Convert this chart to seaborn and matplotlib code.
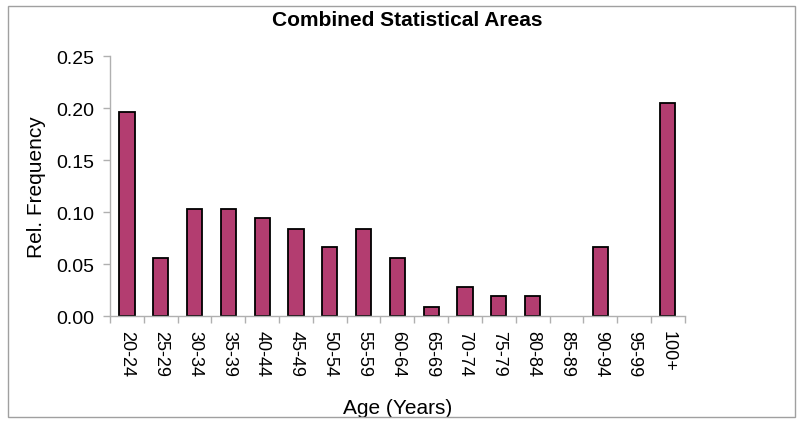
import matplotlib
matplotlib.use('Agg')
import matplotlib.pyplot as plt
import seaborn as sns
import numpy as np
import pandas as pd

age_groups = ['20-24', '25-29', '30-34', '35-39', '40-44', '45-49', '50-54', '55-59',
              '60-64', '65-69', '70-74', '75-79', '80-84', '85-89', '90-94', '95-99', '100+']
rel_freq = [0.196, 0.056, 0.103, 0.103, 0.094, 0.084, 0.066, 0.084,
            0.056, 0.009, 0.028, 0.019, 0.019, 0.0, 0.066, 0.0, 0.205]
y_ticks = [0.00, 0.05, 0.10, 0.15, 0.20, 0.25]

sns.set_style('white')
plt.rcParams['font.family'] = ['Liberation Sans', 'DejaVu Sans']
plt.rcParams['text.color'] = 'black'
plt.rcParams['axes.labelcolor'] = 'black'
plt.rcParams['xtick.color'] = 'black'
plt.rcParams['ytick.color'] = 'black'

df = pd.DataFrame({'age': age_groups, 'freq': rel_freq})

fig = plt.figure(figsize=(7.99, 4.27), dpi=100)
ax = fig.add_axes([0.1377, 0.2576, 0.857 - 0.1377, 0.8665 - 0.2576])

sns.barplot(data=df, x='age', y='freq', color='#B33D70', saturation=1,
            edgecolor='black', linewidth=1.3, width=0.45, ax=ax)
# empty classes: no visible bar outline
for patch in ax.patches:
    if patch.get_height() == 0:
        patch.set_linewidth(0)

ax.set_ylim(0, 0.25)
ax.set_xlim(-0.5, len(age_groups) - 0.5)
ax.set_yticks(y_ticks)
ax.set_yticklabels([f'{v:.2f}' for v in y_ticks], fontsize=14)
ax.set_xticks(range(len(age_groups)))
ax.set_xticklabels(age_groups, rotation=-90, fontsize=13)
ax.tick_params(axis='x', which='major', bottom=False, length=0, pad=10)
ax.set_xticks(np.arange(-0.5, len(age_groups), 1), minor=True)
ax.tick_params(axis='x', which='minor', bottom=True, length=5, width=1,
               color='#b0b0b0', direction='out')
ax.tick_params(axis='y', left=True, length=5, width=1, color='#b0b0b0',
               direction='out', pad=6)

for side in ['top', 'right']:
    ax.spines[side].set_visible(False)
for side in ['left', 'bottom']:
    ax.spines[side].set_color('#b0b0b0')
    ax.spines[side].set_linewidth(1)

ax.set_xlabel('Age (Years)', fontsize=15, labelpad=16)
ax.set_ylabel('Rel. Frequency', fontsize=15, labelpad=8)
fig.text(0.51, 0.953, 'Combined Statistical Areas', ha='center', va='center',
         fontsize=15, fontweight='bold')

# outer frame
frame = plt.Rectangle((0.010, 0.02), 0.985, 0.963, transform=fig.transFigure,
                      fill=False, edgecolor='#a0a0a0', linewidth=1)
fig.add_artist(frame)

fig.savefig('out.png', dpi=100)
